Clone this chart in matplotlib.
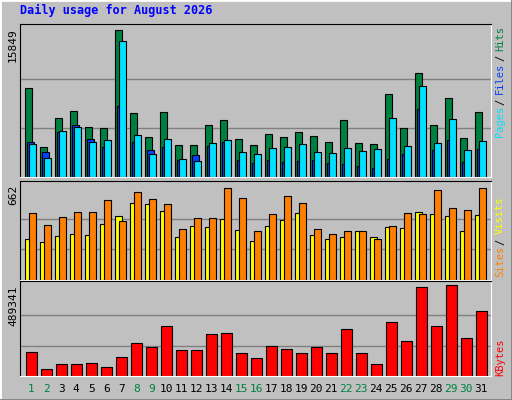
import matplotlib.pyplot as plt
import numpy as np

days = list(range(1, 32))
weekend = [1, 2, 8, 9, 15, 16, 22, 23, 29, 30]

hits = [9594, 3234, 6360, 7114, 5390, 5282, 15849, 6899, 4312, 7006, 3449, 3449, 5605, 6144, 4096, 3449,
        4635, 4312, 4851, 4419, 3773, 6144, 3665, 3557, 8947, 5282, 11210, 5605, 8515, 4204, 7006]
files = [3773, 2695, 4851, 5605, 4096, 3234, 7653, 3773, 2910, 3234, 1832, 2371, 3341, 3773, 1832, 1509,
         1832, 1617, 1725, 1832, 1509, 1401, 1186, 970, 1940, 2479, 7330, 2910, 3988, 1617, 3018]
pages = [3557, 2048, 4958, 5390, 3773, 3988, 14659, 4527, 2479, 4096, 1940, 1725, 3665, 3988, 2695, 2479,
         3126, 3234, 3557, 2695, 2587, 3126, 2803, 3018, 6360, 3341, 9809, 3665, 6252, 2910, 3880]
sites = [295, 273, 317, 331, 324, 403, 461, 554, 547, 497, 309, 389, 381, 439, 360, 281,
         389, 432, 482, 324, 295, 309, 353, 309, 381, 374, 489, 475, 461, 353, 468]
visits = [482, 396, 453, 489, 489, 576, 425, 633, 583, 547, 367, 446, 446, 662, 590, 353,
          475, 605, 554, 367, 331, 353, 353, 295, 389, 482, 475, 648, 518, 504, 662]
kbytes = [129060, 37640, 64530, 64530, 69900, 48400, 102170, 177460, 155950, 268880, 139820, 139820,
          225860, 231230, 123680, 96800, 161330, 145190, 123680, 155950, 123680, 252740, 123680, 64530,
          290390, 188210, 478600, 268880, 489341, 204350, 349540]

BG = '#c0c0c0'
W, H = 512, 400
fig = plt.figure(figsize=(W / 100, H / 100), dpi=100, facecolor=BG)
mono = 'DejaVu Sans Mono'

# bevel border
fig.add_artist(plt.Line2D([0, 0, 1], [0, 1, 1], transform=fig.transFigure, color='white', lw=2))
fig.add_artist(plt.Line2D([0, 1, 1], [0, 0, 1], transform=fig.transFigure, color='#808080', lw=2))

fig.text(20 / W, 1 - 10 / H, 'Daily usage for August 2026', color='#0000ff', family=mono,
         weight='bold', fontsize=8.5, va='center', ha='left')

x = np.arange(31)
x0, x1 = 20, 491


def panel(top, bottom, vmax, data_px):
    ax = fig.add_axes([x0 / W, 1 - bottom / H, (x1 - x0) / W, (bottom - top) / H])
    ax.set_facecolor(BG)
    ax.set_xlim(-0.33, 31.07)
    ax.set_ylim(0, vmax * (bottom - top) / data_px)
    for g in (vmax / 3, 2 * vmax / 3):
        ax.axhline(g, color='#808080', lw=1, zorder=0)
    ax.set_xticks([])
    ax.set_yticks([])
    for s in ('top', 'left'):
        ax.spines[s].set_color('black')
    for s in ('bottom', 'right'):
        ax.spines[s].set_color('white')
    fig.text(13 / W, 1 - (top + 4) / H, str(vmax), rotation=90, family=mono,
             fontsize=8, ha='center', va='top')
    return ax


ax1 = panel(24, 177, 15849, 147)
ax1.bar(x, hits, 0.47, align='edge', color='#008040', edgecolor='black', lw=0.8)
ax1.bar(x + 0.13, files, 0.47, align='edge', color='#0040ff', edgecolor='black', lw=0.8)
ax1.bar(x + 0.27, pages, 0.47, align='edge', color='#00e0ff', edgecolor='black', lw=0.8)

ax2 = panel(181, 280, 662, 92)
ax2.bar(x, sites, 0.47, align='edge', color='#ffff00', edgecolor='black', lw=0.8)
ax2.bar(x + 0.27, visits, 0.47, align='edge', color='#ff8000', edgecolor='black', lw=0.8)

ax3 = panel(281, 376, 489341, 91)
ax3.bar(x + 0.07, kbytes, 0.7, align='edge', color='#ff0000', edgecolor='black', lw=0.8)


def side_label(parts, bottom_px):
    cw = 5.4
    y = bottom_px
    for txt, col in parts:
        fig.text(500 / W, 1 - y / H, txt.strip(), rotation=90, color=col, family=mono, fontsize=7.5,
                 ha='center', va='bottom')
        y -= cw * len(txt)


side_label([('Pages ', '#00e0ff'), ('/ ', '#000000'), ('Files ', '#0040ff'),
            ('/ ', '#000000'), ('Hits', '#008040')], 137)
side_label([('Sites ', '#ff8000'), ('/ ', '#000000'), ('Visits', '#ffff00')], 277)
side_label([('KBytes', '#ff0000')], 376)

for i, d in enumerate(days):
    px = x0 + (i + 0.33 + 0.42) / 31.4 * (x1 - x0)
    fig.text(px / W, 1 - 389 / H, str(d), color='#008040' if d in weekend else 'black',
             family=mono, fontsize=8, ha='center', va='center')

fig.savefig('out.png', dpi=100, facecolor=BG)
